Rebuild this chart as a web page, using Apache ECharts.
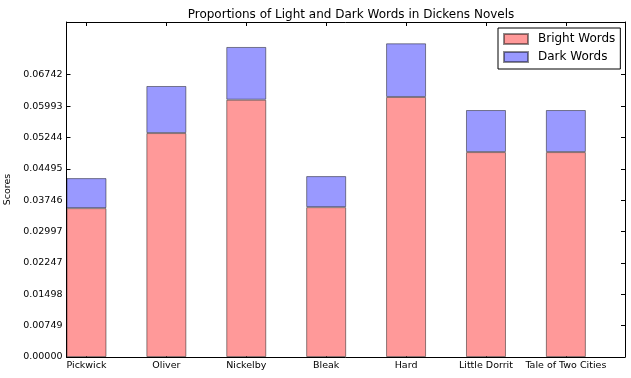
<!DOCTYPE html>
<html>
<head>
<meta charset="utf-8">
<script src="https://cdn.jsdelivr.net/npm/echarts@6/dist/echarts.min.js"></script>
<style>
  html, body { margin: 0; padding: 0; background: #fff; }
  #chart { width: 631px; height: 378px; }
</style>
</head>
<body>
<div id="chart"></div>
<script>
// Dickens novels, word proportions
const categories = ['Pickwick', 'Oliver', 'Nickelby', 'Bleak', 'Hard', 'Little Dorrit', 'Tale of Two Cities'];
const brightWords = [0.03555, 0.05348, 0.06144, 0.03579, 0.06209, 0.04894, 0.04894];
const darkWords = [0.00717, 0.01124, 0.01260, 0.00741, 0.01282, 0.01004, 0.01004];
const yTickLabels = ['0.00000', '0.00749', '0.01498', '0.02247', '0.02997', '0.03746', '0.04495', '0.05244', '0.05993', '0.06742'];
const yMax = 0.08;

const font = 'DejaVu Sans';
const yTicks = yTickLabels.map(Number);
const xTicks = categories.map((c, i) => i);

const chart = echarts.init(document.getElementById('chart'));

const xBase = {
  type: 'value',
  min: -0.25,
  max: 6.74,
  splitLine: { show: false },
  axisLine: { show: true, onZero: false, lineStyle: { color: '#000', width: 1 } },
  axisTick: { show: true, inside: true, length: 4, customValues: xTicks, lineStyle: { color: '#000' } }
};
const yBase = {
  type: 'value',
  min: 0,
  max: yMax,
  splitLine: { show: false },
  axisLine: { show: true, onZero: false, lineStyle: { color: '#000', width: 1 } },
  axisTick: { show: true, inside: true, length: 4, customValues: yTicks, lineStyle: { color: '#000' } }
};

// value first so the stack is done on y; x is the bar slot
const toPoints = vals => vals.map((v, i) => [v, i]);

const option = {
  animation: false,
  textStyle: { fontFamily: font },
  title: {
    text: 'Proportions of Light and Dark Words in Dickens Novels',
    left: 346,
    top: 4,
    textAlign: 'center',
    textStyle: { fontFamily: font, fontSize: 12, fontWeight: 'normal', color: '#000' }
  },
  legend: {
    orient: 'vertical',
    left: 498,
    top: 28,
    padding: [5, 5, 6, 5],
    itemWidth: 24,
    itemHeight: 10,
    itemGap: 6,
    borderColor: '#000',
    borderWidth: 1,
    borderRadius: 0,
    icon: 'rect',
    data: ['Bright Words', 'Dark Words'],
    textStyle: { fontFamily: font, fontSize: 12, color: '#000', padding: [0, 0, 0, 5] }
  },
  grid: { left: 66.5, right: 6, top: 22, bottom: 21, containLabel: false, outerBoundsMode: 'none' },
  xAxis: [
    Object.assign({}, xBase, {
      position: 'bottom',
      axisLabel: {
        customValues: xTicks,
        formatter: v => categories[Math.round(v)],
        fontFamily: font, fontSize: 9.5, color: '#000', margin: 4
      }
    }),
    Object.assign({}, xBase, { position: 'top', axisLabel: { show: false } })
  ],
  yAxis: [
    Object.assign({}, yBase, {
      position: 'left',
      name: 'Scores',
      nameLocation: 'middle',
      nameRotate: 90,
      nameGap: 48,
      nameTextStyle: { fontFamily: font, fontSize: 9.5, color: '#000' },
      axisLabel: {
        customValues: yTicks,
        formatter: v => v.toFixed(5),
        fontFamily: font, fontSize: 9.5, color: '#000', margin: 4
      }
    }),
    Object.assign({}, yBase, { position: 'right', axisLabel: { show: false } })
  ],
  series: [
    {
      name: 'Bright Words',
      type: 'bar',
      stack: 'words',
      barWidth: 40,
      encode: { x: 1, y: 0 },
      data: toPoints(brightWords),
      itemStyle: { color: '#ff9999', borderColor: 'rgba(0,0,0,0.45)', borderWidth: 1 }
    },
    {
      name: 'Dark Words',
      type: 'bar',
      stack: 'words',
      barWidth: 40,
      encode: { x: 1, y: 0 },
      data: toPoints(darkWords),
      itemStyle: { color: '#9999ff', borderColor: 'rgba(0,0,0,0.45)', borderWidth: 1 }
    }
  ]
};

chart.setOption(option);
</script>
</body>
</html>
